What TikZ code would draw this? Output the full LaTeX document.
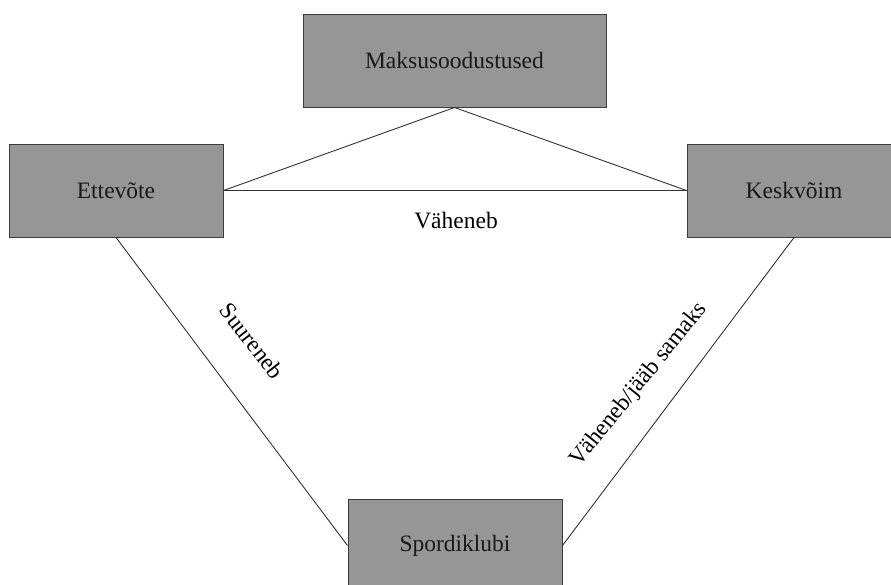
\documentclass[tikz,border=0pt]{standalone}
\usepackage{fontspec}
\setmainfont{Liberation Serif}
\definecolor{boxfill}{RGB}{150,150,150}
\definecolor{boxline}{RGB}{60,60,60}
\definecolor{conn}{RGB}{50,50,50}
\begin{document}
\begin{tikzpicture}[x=1pt,y=-1pt,
  box/.style={draw=boxline, fill=boxfill, line width=1pt, inner sep=0pt,
    minimum width=214pt, minimum height=93pt, font=\fontsize{23.5}{28}\selectfont, text=black!90},
  link/.style={draw=conn, line width=0.9pt},
  lab/.style={font=\fontsize{23.5}{28}\selectfont, inner sep=0pt}]
\useasboundingbox (0,0) rectangle (891,584);
\begin{scope}
\clip (0,0) rectangle (891,584);
\node[box, minimum width=303pt] (mak) at (454.5,60.5) {Maksusoodustused};
\node[box] (ett) at (116,190.5) {Ettevõte};
\node[box] (kes) at (794,190.5) {Keskvõim};
\node[box] (spo) at (455,545.5) {Spordiklubi};
\draw[link] (mak.south) -- (ett.east);
\draw[link] (mak.south) -- (kes.west);
\draw[link] (ett.east) -- (kes.west);
\draw[link] (ett.south) -- (spo.west);
\draw[link] (kes.south) -- (spo.east);
\end{scope}
\node[lab] (l1) at (456,221) {Väheneb};
\node[lab, rotate=-52] (l2) at (252,341) {Suureneb};
\node[lab, rotate=51] (l3) at (639,385) {Väheneb/jääb samaks};
\end{tikzpicture}
\end{document}
